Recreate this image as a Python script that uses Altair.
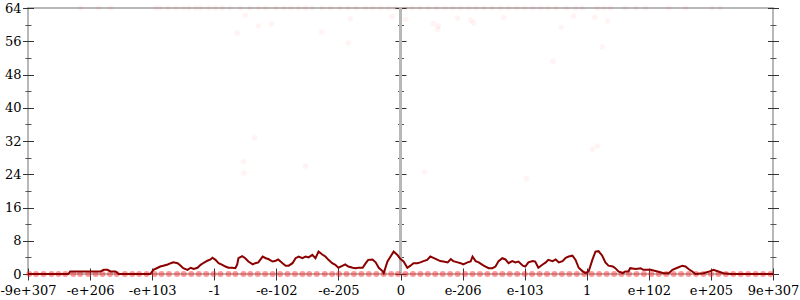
import altair as alt
import pandas as pd

# ---------------- data ----------------
x_tick_labels = ["-9e+307", "-e+206", "-e+103", "-1", "-e-102", "-e-205", "0",
                 "e-206", "e-103", "1", "e+102", "e+205", "9e+307"]
x_tick_pos = [-6, -5, -4, -3, -2, -1, 0, 1, 2, 3, 4, 5, 6]
y_major = [0, 8, 16, 24, 32, 40, 48, 56, 64]
y_minor = [4, 12, 20, 28, 36, 44, 52, 60]

line_x = [-6.0, -5.35, -5.32, -4.83, -4.78, -4.72, -4.67, -4.59, -4.54, -4.03,
          -3.98, -3.91, -3.87, -3.82, -3.75, -3.70, -3.66, -3.59, -3.54, -3.50,
          -3.43, -3.38, -3.33, -3.27, -3.22, -3.17, -3.11, -3.06, -3.03, -2.98,
          -2.93, -2.87, -2.82, -2.77, -2.71, -2.66, -2.63, -2.61, -2.55, -2.50,
          -2.45, -2.38, -2.34, -2.29, -2.22, -2.17, -2.13, -2.06, -2.01, -1.97,
          -1.90, -1.85, -1.80, -1.74, -1.69, -1.64, -1.58, -1.53, -1.48, -1.42,
          -1.37, -1.32, -1.26, -1.21, -1.16, -1.10, -1.05, -1.00, -0.93, -0.89,
          -0.84, -0.77, -0.72, -0.68, -0.61, -0.56, -0.52, -0.45, -0.40, -0.35,
          -0.29, -0.27, -0.21, -0.16, -0.11, -0.05, 0.00, 0.05, 0.11, 0.16,
          0.21, 0.27, 0.32, 0.37, 0.43, 0.48, 0.53, 0.60, 0.64, 0.69,
          0.76, 0.81, 0.85, 0.92, 0.97, 1.01, 1.08, 1.13, 1.16, 1.21,
          1.26, 1.32, 1.37, 1.42, 1.48, 1.53, 1.58, 1.64, 1.69, 1.74,
          1.80, 1.85, 1.90, 1.97, 2.01, 2.06, 2.13, 2.17, 2.22, 2.29,
          2.34, 2.38, 2.45, 2.50, 2.55, 2.61, 2.66, 2.71, 2.77, 2.82,
          2.87, 2.93, 2.98, 3.03, 3.09, 3.14, 3.19, 3.25, 3.30, 3.35,
          3.42, 3.46, 3.51, 3.58, 3.62, 3.67, 3.70, 3.79, 3.87, 3.91,
          4.03, 4.14, 4.24, 4.32, 4.38, 4.46, 4.54, 4.59, 4.64, 4.70,
          4.75, 4.88, 4.99, 5.04, 5.12, 5.20, 5.32, 6.0]
line_y = [0, 0, 0.6, 0.6, 1.0, 1.0, 0.6, 0.6, 0, 0,
          1.0, 1.5, 1.8, 2.0, 2.3, 2.6, 2.8, 2.6, 2.0, 1.4,
          1.0, 1.5, 1.2, 1.5, 2.2, 2.7, 3.2, 3.5, 3.9, 3.4,
          2.6, 2.2, 1.8, 1.5, 1.5, 1.4, 2.3, 3.8, 4.3, 3.8,
          3.0, 2.3, 2.6, 2.8, 4.2, 3.8, 3.6, 3.0, 3.2, 3.5,
          2.6, 2.0, 2.0, 2.6, 3.8, 4.2, 3.8, 4.2, 4.0, 4.6,
          3.8, 5.4, 4.7, 4.2, 3.4, 2.6, 2.2, 1.5, 2.0, 2.3,
          1.8, 1.5, 1.4, 1.5, 1.5, 2.6, 3.4, 3.5, 2.8, 1.5,
          0.7, 0.2, 3.0, 4.2, 5.4, 4.6, 3.6, 3.0, 1.5, 2.0,
          2.6, 2.6, 2.8, 3.1, 3.4, 4.2, 3.9, 3.4, 3.1, 3.0,
          2.8, 3.6, 3.1, 2.8, 2.6, 2.3, 2.8, 3.0, 4.2, 3.1,
          2.8, 2.2, 1.8, 1.4, 1.4, 1.8, 3.1, 3.8, 3.5, 2.6,
          3.1, 2.8, 3.0, 2.0, 1.8, 2.8, 3.1, 3.0, 1.5, 2.3,
          2.8, 3.4, 3.1, 3.5, 2.8, 3.1, 3.9, 4.2, 4.4, 3.4,
          1.5, 0.7, 0.2, 0.6, 3.4, 5.4, 5.5, 4.4, 2.8, 2.0,
          1.8, 1.4, 0.6, 0.2, 0.6, 0.6, 1.4, 1.2, 1.4, 1.0,
          1.0, 0.6, 0.2, 0.2, 1.0, 1.5, 2.0, 1.8, 1.2, 0.6,
          0, 0.2, 0.7, 1.0, 0.6, 0.2, 0, 0]

zero_x = [-5.98, -5.87, -5.75, -5.62, -5.51, -5.40, -5.27, -5.16, -5.03, -4.91,
          -4.80, -4.68, -4.57, -4.44, -4.32, -4.21, -4.09, -3.96, -3.85, -3.73,
          -3.60, -3.49, -3.37, -3.25, -3.13, -3.01, -2.90, -2.77, -2.66, -2.53,
          -2.42, -2.30, -2.18, -2.06, -1.94, -1.82, -1.70, -1.58, -1.47, -1.35,
          -1.22, -1.10, -0.99, -0.87, -0.75, -0.63, -0.51, -0.39, -0.27, -0.15,
          -0.04, 0.08, 0.20, 0.32, 0.44, 0.56, 0.68, 0.80, 0.92, 1.04,
          1.16, 1.28, 1.40, 1.52, 1.64, 1.76, 1.88, 2.00, 2.12, 2.24,
          2.36, 2.48, 2.60, 2.72, 2.84, 2.96, 3.08, 3.20, 3.32, 3.44,
          3.56, 3.68, 3.80, 3.92, 4.04, 4.16, 4.28, 4.40, 4.52, 4.64,
          4.76, 4.88, 5.00, 5.12, 5.24, 5.36, 5.48, 5.60, 5.72, 5.84, 5.96]

top_x = [-5.15, -4.86, -4.67, -3.95, -3.87, -3.74, -3.62, -3.50, -3.41, -3.30,
         -3.22, -3.09, -2.98, -2.87, -2.74, -2.58, -2.42, -2.29, -2.17, -2.01,
         -1.88, -1.77, -1.64, -1.53, -1.42, -1.26, -1.13, -0.97, -0.84, -0.71,
         -0.56, -0.45, -0.32, -0.19, -0.08, 0.08, 0.19, 0.32, 0.45, 0.58,
         0.72, 0.84, 0.97, 1.10, 1.22, 1.35, 1.48, 1.61, 1.74, 1.87,
         2.00, 2.13, 2.26, 2.38, 2.51, 2.67, 2.82, 2.93, 3.17, 3.27,
         3.38, 3.62, 3.79, 3.95, 4.32, 4.59, 5.02, 5.15]

scatter_x = [-2.50, -2.29, -2.08, -2.63, -1.27, -0.84, -0.81, -0.14, 0.08, 0.53,
             0.61, 0.60, 0.92, 1.13, 1.18, 1.66, 2.59, 2.79, 3.13, 3.34,
             3.25, 2.46, -2.35, -2.53, -2.52, -1.53, 0.39, 2.03, 3.09, 3.17]
scatter_y = [62.2, 59.7, 60.2, 58.0, 58.2, 55.6, 61.4, 61.9, 61.3, 60.2,
             59.7, 58.9, 61.6, 61.1, 60.4, 61.7, 59.4, 62.1, 61.8, 60.9,
             54.6, 51.2, 32.7, 27.0, 24.3, 26.0, 24.6, 22.9, 30.0, 30.8]

# ---------------- tables ----------------
line_df = pd.DataFrame({"x": line_x, "err": line_y})
zero_df = pd.DataFrame({"x": zero_x, "err": [0] * len(zero_x)})
high_df = pd.DataFrame({
    "x": top_x + scatter_x,
    "err": [64] * len(top_x) + scatter_y,
})

FONT = "DejaVu Serif, Liberation Serif, serif"
xscale = alt.Scale(domain=[-6, 6], nice=False, zero=False)
yscale = alt.Scale(domain=[0, 64], nice=False, zero=False)

label_expr = "[" + ",".join("'%s'" % t for t in x_tick_labels) + "][datum.value + 6]"
x_axis = alt.Axis(values=x_tick_pos, labelExpr=label_expr, domain=False, grid=False,
                  tickSize=12, offset=-6, tickColor="#333333", tickWidth=1,
                  labelFont=FONT, labelFontSize=13, labelColor="black",
                  labelPadding=4, labelFlush=False, labelOverlap=False, title=None)
X = alt.X("x:Q", scale=xscale, axis=x_axis)


def yaxis(orient, values, size, offset, labels=False, color="#333333"):
    return alt.Axis(orient=orient, values=values, tickSize=size, offset=offset,
                    labels=labels, domain=False, grid=False, title=None,
                    tickColor=color, tickWidth=1, labelFont=FONT, labelFontSize=13,
                    labelColor="black", labelPadding=1.5, labelFlush=False,
                    labelOverlap=False)


center = alt.Chart(line_df).mark_rule(color="#b8b8b8", strokeWidth=2).encode(
    x=alt.XDatum(0, scale=xscale, axis=x_axis, type="quantitative")
)

zero_pts = alt.Chart(zero_df).mark_circle(color="#ff1a1a", opacity=0.45, size=36).encode(
    x=X, y=alt.Y("err:Q", scale=yscale, axis=yaxis("left", y_major, 11, -5.5, labels=True))
)

high_pts = alt.Chart(high_df).mark_circle(color="#ff1a1a", opacity=0.05, size=30).encode(
    x=X, y=alt.Y("err:Q", scale=yscale, axis=None)
)

line = alt.Chart(line_df).mark_line(color="#8b0000", strokeWidth=2).encode(
    x=X, y=alt.Y("err:Q", scale=yscale, axis=None)
)


def axis_layer(ax):
    return alt.Chart(line_df).mark_point(opacity=0).encode(
        x=X, y=alt.Y("err:Q", scale=yscale, axis=ax)
    )


layers = [
    center,
    zero_pts,
    high_pts,
    line,
    axis_layer(yaxis("left", y_minor, 6, -3, color="#555555")),
    axis_layer(yaxis("right", y_major, 11, -5.5)),
    axis_layer(yaxis("right", y_minor, 6, -3, color="#555555")),
    axis_layer(yaxis("left", y_major, 11, -378)),
    axis_layer(yaxis("left", y_minor, 6, -375.5, color="#555555")),
]

chart = (
    alt.layer(*layers)
    .resolve_scale(y="independent")
    .properties(width=745, height=266, autosize="none",
                padding={"left": 28, "top": 8, "right": 27, "bottom": 26},
                background="white")
    .configure_view(stroke="#b8b8b8", strokeWidth=2)
)

chart.save("out.html", embed_options={"renderer": "svg", "actions": False})
